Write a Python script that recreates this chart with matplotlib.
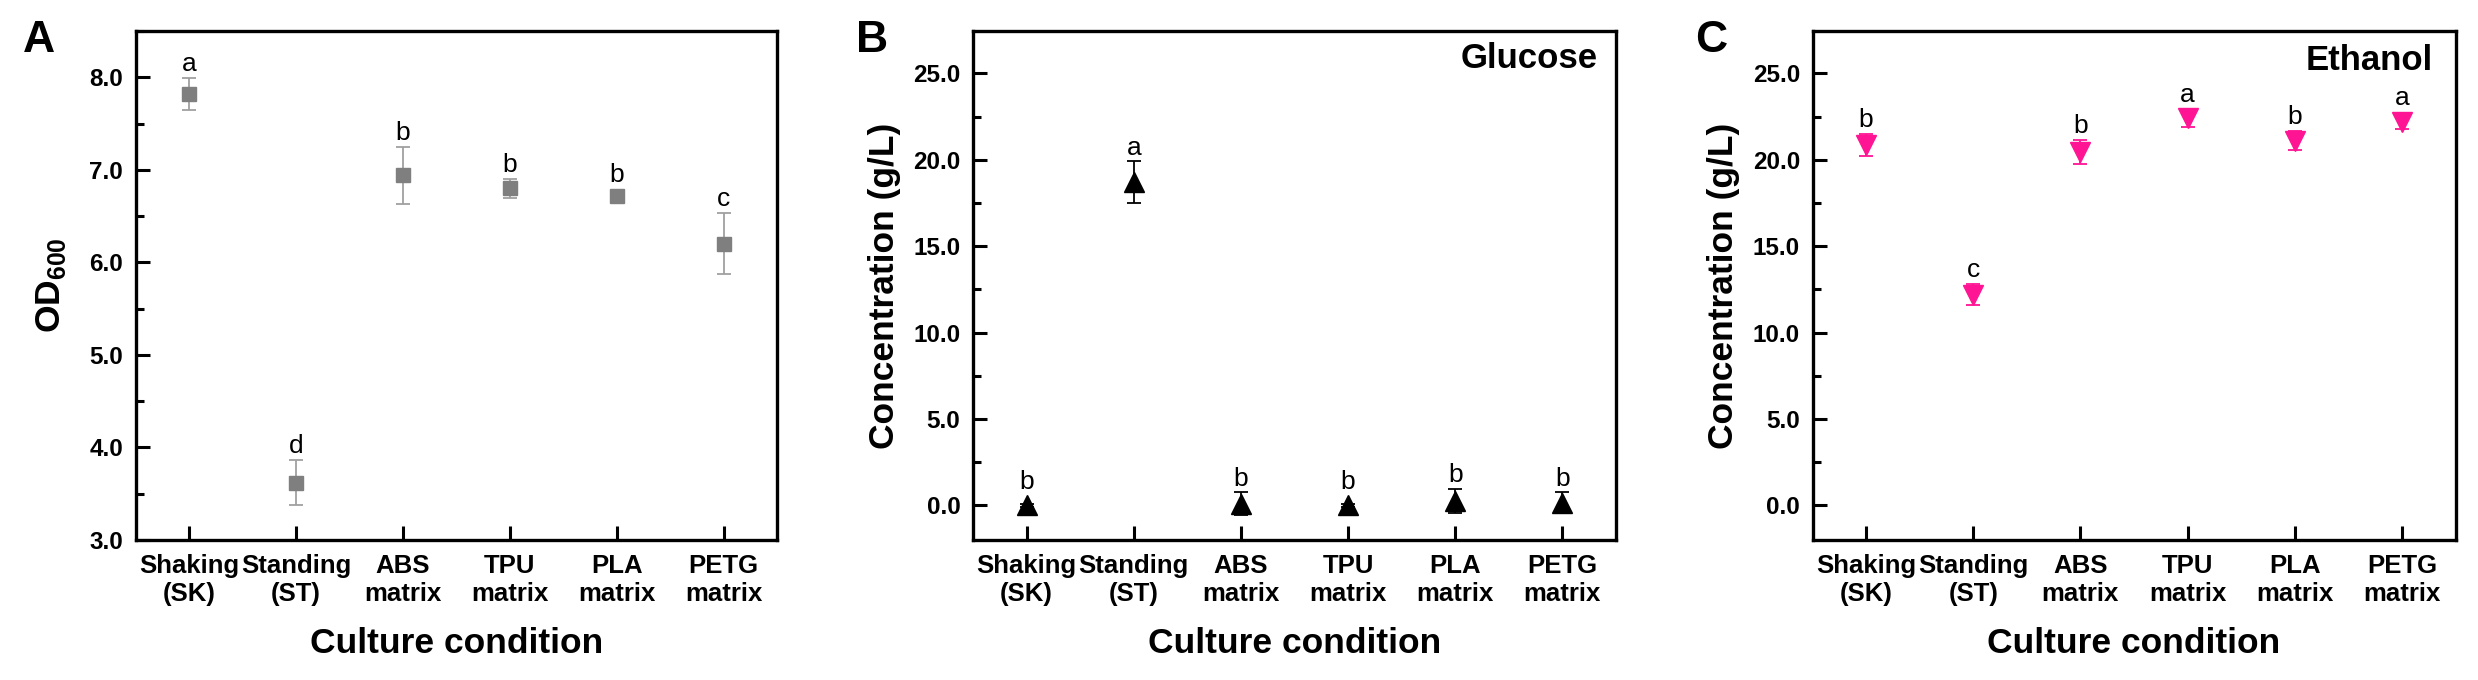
import matplotlib.pyplot as plt
from matplotlib.ticker import MultipleLocator, FormatStrFormatter

plt.rcParams['font.family'] = ['Liberation Sans', 'DejaVu Sans']
plt.rcParams['mathtext.fontset'] = 'custom'
plt.rcParams['mathtext.rm'] = 'Liberation Sans'
plt.rcParams['mathtext.bf'] = 'Liberation Sans:bold'

conditions = ['Shaking\n(SK)', 'Standing\n(ST)', 'ABS\nmatrix',
              'TPU\nmatrix', 'PLA\nmatrix', 'PETG\nmatrix']

od600 = [7.82, 3.62, 6.94, 6.80, 6.72, 6.20]
od600_err = [0.17, 0.24, 0.31, 0.10, 0.04, 0.33]
od600_letters = ['a', 'd', 'b', 'b', 'b', 'c']

glucose = [0.0, 18.7, 0.1, 0.0, 0.25, 0.15]
glucose_err = [0.1, 1.2, 0.65, 0.1, 0.7, 0.6]
glucose_letters = ['b', 'a', 'b', 'b', 'b', 'b']

ethanol = [20.85, 12.2, 20.45, 22.4, 21.1, 22.2]
ethanol_err = [0.65, 0.6, 0.7, 0.5, 0.55, 0.4]
ethanol_letters = ['b', 'c', 'b', 'a', 'b', 'a']

DPI = 100
fig = plt.figure(figsize=(24.78, 6.8), dpi=DPI)
W, H = 2478, 680


def make_axes(left_px, right_px):
    return fig.add_axes([left_px / W, 1 - 540 / H, (right_px - left_px) / W, (540 - 31) / H])


def style(ax, ylim, major, minor, ylabel, ylabelpad=9):
    ax.set_xlim(0.5, 6.5)
    ax.set_ylim(*ylim)
    ax.set_xticks(range(1, 7))
    ax.set_xticklabels(conditions, fontsize=18.5, fontweight='bold', linespacing=1.2)
    ax.yaxis.set_major_locator(MultipleLocator(major))
    ax.yaxis.set_minor_locator(MultipleLocator(minor))
    ax.yaxis.set_major_formatter(FormatStrFormatter('%.1f'))
    for lab in ax.get_yticklabels():
        lab.set_fontsize(17.5)
        lab.set_fontweight('bold')
    ax.tick_params(axis='both', which='major', direction='in', length=10, width=2.2, pad=9)
    ax.tick_params(axis='x', which='major', pad=10)
    ax.tick_params(axis='y', which='minor', direction='in', length=6, width=2.2)
    ax.tick_params(axis='x', which='minor', bottom=False)
    for sp in ax.spines.values():
        sp.set_linewidth(2.4)
    ax.set_xlabel('Culture condition', fontsize=25.5, fontweight='bold', labelpad=15)
    ax.set_ylabel(ylabel, fontsize=25.5, fontweight='bold', labelpad=ylabelpad)


def add_letters(ax, vals, errs, letters, ms):
    for i, (v, e, l) in enumerate(zip(vals, errs, letters)):
        x = i + 1
        top = ax.transData.transform((x, v + e))[1] - ax.transData.transform((x, v))[1]
        off = max(top * 72 / DPI, ms / 2) + 5
        ax.annotate(l, (x, v), xytext=(0, off), textcoords='offset points',
                    ha='center', va='baseline', fontsize=19)


x = range(1, 7)

# A: OD600
axA = make_axes(135.5, 777)
style(axA, (3.0, 8.5), 1.0, 0.5, r'$\mathbf{OD}_{\mathbf{600}}$', ylabelpad=15)
axA.errorbar(x, od600, yerr=od600_err, fmt='s', ms=10, color='#7f7f7f',
             ecolor='#a0a0a0', elinewidth=1.3, capsize=5, capthick=1.3)
add_letters(axA, od600, od600_err, od600_letters, 10)

# B: glucose
axB = make_axes(973, 1616)
style(axB, (-2.0, 27.45), 5.0, 2.5, 'Concentration (g/L)')
axB.errorbar(x, glucose, yerr=glucose_err, fmt='^', ms=14, color='black',
             ecolor='black', elinewidth=1.3, capsize=5, capthick=1.3)
add_letters(axB, glucose, glucose_err, glucose_letters, 14)
axB.text(0.971, 0.978, 'Glucose', transform=axB.transAxes, ha='right', va='top',
         fontsize=25, fontweight='bold')

# C: ethanol
axC = make_axes(1812.5, 2455.5)
style(axC, (-2.0, 27.45), 5.0, 2.5, 'Concentration (g/L)')
axC.errorbar(x, ethanol, yerr=ethanol_err, fmt='v', ms=14, color='#ff1493',
             ecolor='#ff1493', elinewidth=1.3, capsize=5, capthick=1.3)
add_letters(axC, ethanol, ethanol_err, ethanol_letters, 14)
axC.text(0.965, 0.975, 'Ethanol', transform=axC.transAxes, ha='right', va='top',
         fontsize=25, fontweight='bold')

for letter, xpx in [('A', 23), ('B', 856), ('C', 1695)]:
    fig.text(xpx / W, 1 - 52 / H, letter, fontsize=32, fontweight='bold',
             ha='left', va='baseline')

fig.savefig('out.png', dpi=DPI)
